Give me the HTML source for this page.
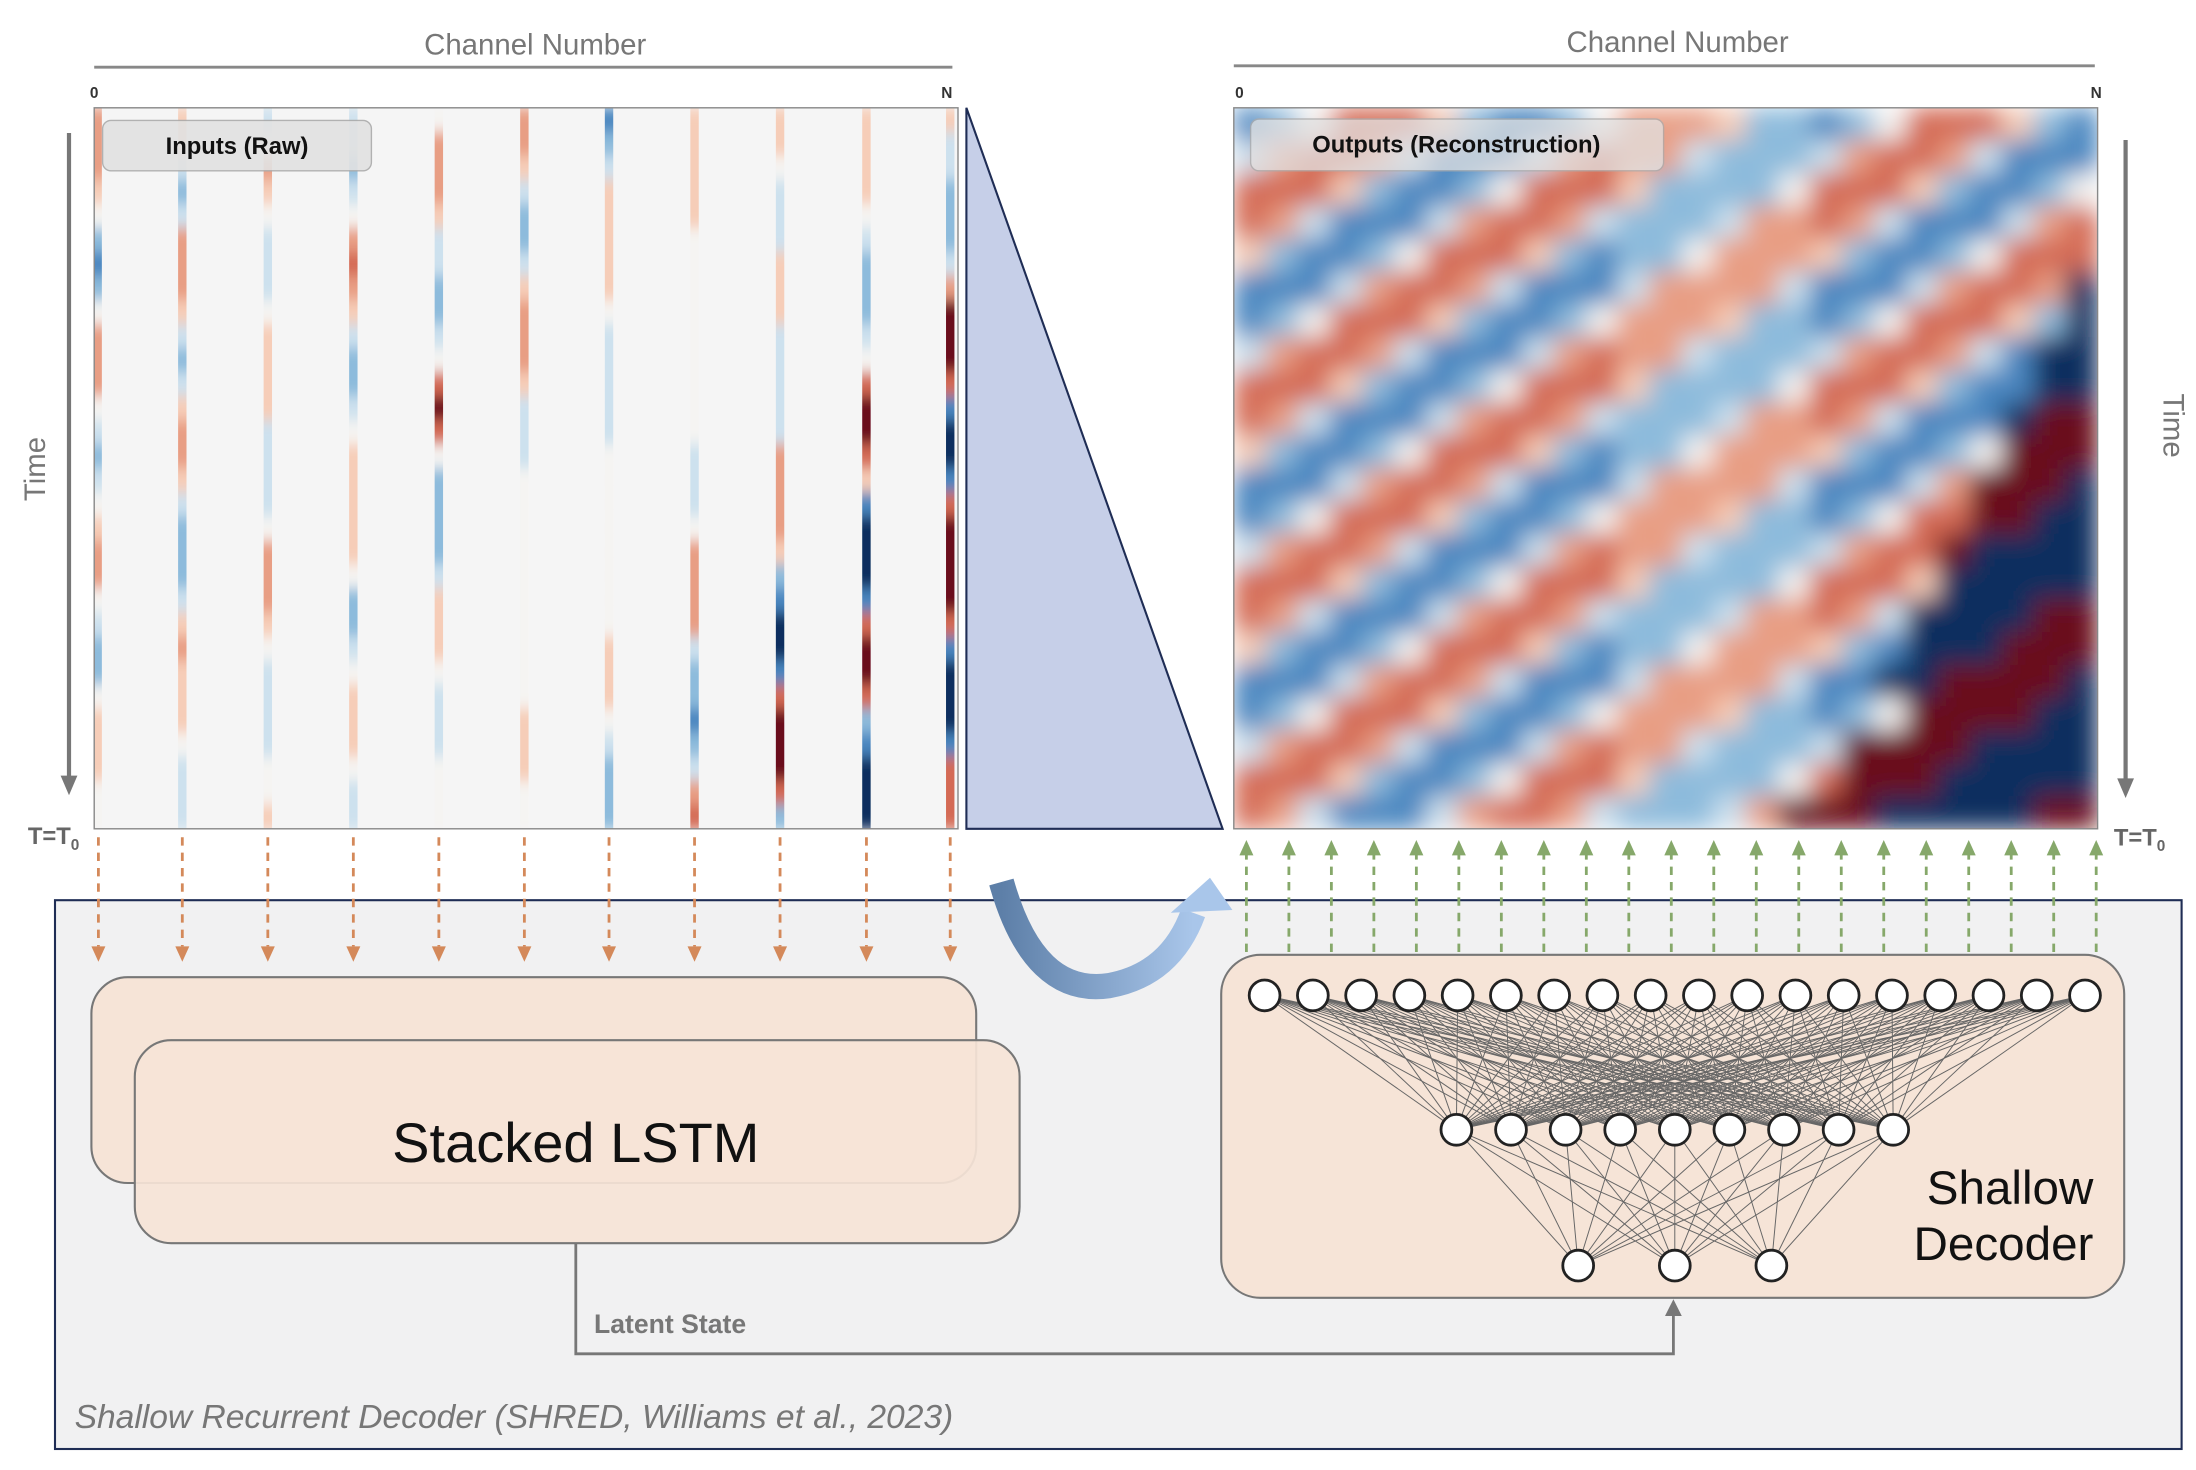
<!DOCTYPE html>
<html><head><meta charset="utf-8"><style>
html,body{margin:0;padding:0;background:#fff;}
svg{display:block;font-family:"Liberation Sans",sans-serif;}
</style></head><body>
<svg id="fig" width="2196" height="1470" viewBox="0 0 1568 1050">
<defs>
<linearGradient id="cg" x1="0" x2="1"><stop offset="0" stop-color="#5d7fa8"/><stop offset="1" stop-color="#a9c6ea"/></linearGradient>
<clipPath id="clipL"><rect x="67" y="77" width="617" height="515"/></clipPath>
<clipPath id="clipR"><rect x="881" y="77" width="617" height="515"/></clipPath>
<filter id="blurR" x="-5%" y="-5%" width="110%" height="110%"><feGaussianBlur stdDeviation="9" edgeMode="duplicate"/></filter>
<filter id="blurL" x="-5%" y="-5%" width="110%" height="110%"><feGaussianBlur stdDeviation="0 5"/></filter>
</defs>
<g clip-path="url(#clipL)">
<rect x="67" y="77" width="617" height="515" fill="#f5f5f5"/>
<g id="left-hm" filter="url(#blurL)"></g>
</g>
<g clip-path="url(#clipR)">
<g id="right-hm" filter="url(#blurR)"></g>
</g>
<rect x="67" y="77" width="617" height="515" fill="none" stroke="#888" stroke-width="1"/>
<rect x="881" y="77" width="617" height="515" fill="none" stroke="#888" stroke-width="1"/>
<rect x="73" y="86" width="192" height="36" rx="6" fill="#e2e2e2" stroke="#aaa" opacity="0.9"/>
<text x="169" y="110" text-anchor="middle" font-size="17" font-weight="bold" fill="#111">Inputs (Raw)</text>
<rect x="893" y="85" width="295" height="37" rx="6" fill="#e2e2e2" stroke="#aaa" opacity="0.75"/>
<text x="1040" y="109" text-anchor="middle" font-size="17" font-weight="bold" fill="#111">Outputs (Reconstruction)</text>
<text x="382" y="39" text-anchor="middle" font-size="21" fill="#777">Channel Number</text>
<line x1="67" y1="48" x2="680" y2="48" stroke="#888" stroke-width="2"/>
<text x="67" y="70" text-anchor="middle" font-size="11" font-weight="bold" fill="#333">0</text>
<text x="676" y="70" text-anchor="middle" font-size="11" font-weight="bold" fill="#333">N</text>
<text x="1198" y="37" text-anchor="middle" font-size="21" fill="#777">Channel Number</text>
<line x1="881" y1="47" x2="1496" y2="47" stroke="#888" stroke-width="2"/>
<text x="885" y="70" text-anchor="middle" font-size="11" font-weight="bold" fill="#333">0</text>
<text x="1497" y="70" text-anchor="middle" font-size="11" font-weight="bold" fill="#333">N</text>
<line x1="49" y1="95" x2="49" y2="556" stroke="#777" stroke-width="3"/>
<polygon points="43,554 55,554 49,568" fill="#777"/>
<text transform="translate(32,335) rotate(-90)" text-anchor="middle" font-size="21" fill="#777">Time</text>
<text x="38" y="603" text-anchor="middle" font-size="17" font-weight="bold" fill="#666">T=T<tspan font-size="11" dy="4">0</tspan></text>
<line x1="1518" y1="100" x2="1518" y2="558" stroke="#777" stroke-width="3"/>
<polygon points="1512,556 1524,556 1518,570" fill="#777"/>
<text transform="translate(1545,304) rotate(90)" text-anchor="middle" font-size="21" fill="#777">Time</text>
<text x="1528" y="604" text-anchor="middle" font-size="17" font-weight="bold" fill="#666">T=T<tspan font-size="11" dy="4">0</tspan></text>
<polygon points="690,77 690,592 873,592" fill="#c6cfe8" stroke="#1f2d55" stroke-width="1.5"/>
<rect x="39" y="643" width="1519" height="392" fill="#f1f1f2" stroke="#1f2d55" stroke-width="1.5"/>
<g id="arrows"></g>
<rect x="65" y="698" width="632" height="147" rx="26" fill="#f6e4d7" stroke="#777" stroke-width="1.5"/>
<rect x="96" y="743" width="632" height="145" rx="26" fill="#f6e4d7" fill-opacity="0.92" stroke="#777" stroke-width="1.5"/>
<text x="411" y="830" text-anchor="middle" font-size="40" fill="#111">Stacked LSTM</text>
<polyline points="411,888 411,967 1195,967 1195,938" fill="none" stroke="#777" stroke-width="2"/>
<polygon points="1189,940 1201,940 1195,928" fill="#777"/>
<text x="424" y="952" font-size="19" font-weight="bold" fill="#777">Latent State</text>
<rect x="872" y="682" width="645" height="245" rx="28" fill="#f6e4d7" stroke="#777" stroke-width="1.5"/>
<g id="net"></g>
<text x="1495" y="860" text-anchor="end" font-size="34" fill="#111">Shallow</text>
<text x="1495" y="900" text-anchor="end" font-size="34" fill="#111">Decoder</text>
<g>
<path d="M715,630 Q738,712 792,704 Q836,696 852,652" fill="none" stroke="url(#cg)" stroke-width="18"/>
<polygon points="836,652 880,650 864,627" fill="#a9c6ea"/>
</g>
<text x="53" y="1020" font-size="24" font-style="italic" fill="#777">Shallow Recurrent Decoder  (SHRED, Williams et al., 2023)</text>
</svg>
<script>
const inputChannels = [0.004,0.102,0.201,0.3,0.399,0.498,0.596,0.695,0.794,0.894,0.991];
const inputStripes = [
"666542124666432345664322455544",
"553236665323566532223565554333",
"346543334555533334666543333445",
"332346765322345555542234555433",
"466653322347874222235554333444",
"665"+"3223"+"56665"+"333"+"4444444444"+"555"+"44",
"123"+"55555"+"4"+"33333"+"44444444"+"555"+"4"+"3222",
"55555"+"444444444"+"333"+"4"+"6666"+"3221"+"23"+"67",
"55"+"4"+"333"+"555"+"33333"+"6666"+"5"+"21001"+"78887"+"2",
"55554"+"32223"+"4"+"7887"+"5"+"10001"+"7887"+"21000",
"5332223"+"68887"+"1001"+"788887"+"10001"+"777"];
const outputRows = [
"124777521"+"124666522"+"124777521",
"367763111"+"367663222"+"367763111",
"777521124"+"777522224"+"777521124",
"763111367"+"763222366"+"763111367",
"521124777"+"521224666"+"521124777",
"111367763"+"111366663"+"111367760",
"124777521"+"124666522"+"124777520",
"367763111"+"367663222"+"367763100",
"777521124"+"777522224"+"777521100",
"763111367"+"763222366"+"763111088",
"521124777"+"521224666"+"521124888",
"111367763"+"111366663"+"111368880",
"124777521"+"124666522"+"124778800",
"367763111"+"367663222"+"367780000",
"777521124"+"777522224"+"777500000",
"763111367"+"763222366"+"763000088",
"521124777"+"521224666"+"521000888",
"111367763"+"111366663"+"110088880",
"124777521"+"124666522"+"124888800",
"367763111"+"367663222"+"388880000",
"777521124"+"777522224"+"788800000",
"763111367"+"763222368"+"880000088"];
const palette = ['#0d2f5e','#4a86c0','#8dbbdc','#cde1ee','#f5f4f2','#f6cdb8','#e89e84','#d46a55','#6a0c1f'];
const topNodeCount = 18, midNodeCount = 9, botNodeCount = 3;
const greenArrows = 21;
const NS='http://www.w3.org/2000/svg';
function mk(t,a,p){const e=document.createElementNS(NS,t);for(const k in a)e.setAttribute(k,a[k]);p.appendChild(e);return e;}
const L=document.getElementById('left-hm');
const lx=v=>67+v*617;
inputStripes.forEach((s,i)=>{
  const rh=515/s.length;
  for(let r=0;r<s.length;r++){
    const c=mk('rect',{x:lx(inputChannels[i])-3,y:77+r*rh,width:6,height:rh+0.5,fill:palette[+s[r]]},L);
    
    
  }
});
const R=document.getElementById('right-hm');
outputRows.forEach((row,r)=>{
  const rh=515/outputRows.length, cw=617/row.length;
  for(let c=0;c<row.length;c++){
    const e=mk('rect',{x:881+c*cw,y:77+r*rh,width:cw+0.5,height:rh+0.5,fill:palette[+row[c]]},R);
    
    
  }
});
const A=document.getElementById('arrows');
inputChannels.forEach(v=>{
  const x=Math.min(Math.max(lx(v),70),680);
  const l=mk('line',{x1:x,y1:598,x2:x,y2:676,stroke:'#d4895a','stroke-width':2,'stroke-dasharray':'6,5'},A);
  
  
  mk('polygon',{points:`${x-5},676 ${x+5},676 ${x},687`,fill:'#d4895a'},A);
});
for(let i=0;i<greenArrows;i++){
  const x=890+i*(1497-890)/(greenArrows-1);
  const l=mk('line',{x1:x,y1:680,x2:x,y2:610,stroke:'#86a86a','stroke-width':2,'stroke-dasharray':'6,5'},A);
  
  
  mk('polygon',{points:`${x-5},611 ${x+5},611 ${x},600`,fill:'#86a86a'},A);
}
const N=document.getElementById('net');
const topLayer=[],midLayer=[],botLayer=[];
for(let i=0;i<topNodeCount;i++)topLayer.push([903+i*(1489-903)/(topNodeCount-1),711]);
for(let i=0;i<midNodeCount;i++)midLayer.push([1040+i*(1352-1040)/(midNodeCount-1),807]);
for(let i=0;i<botNodeCount;i++)botLayer.push([1127+i*69,904]);
topLayer.forEach(a=>midLayer.forEach(b=>mk('line',{x1:a[0],y1:a[1],x2:b[0],y2:b[1],stroke:'#666','stroke-width':0.7},N)));
midLayer.forEach(a=>botLayer.forEach(b=>mk('line',{x1:a[0],y1:a[1],x2:b[0],y2:b[1],stroke:'#666','stroke-width':0.7},N)));
[topLayer,midLayer,botLayer].forEach(layer=>layer.forEach(p=>{
  const c=mk('circle',{cx:p[0],cy:p[1],r:11,fill:'#fff',stroke:'#222','stroke-width':2},N);
  
  
}));
</script>
</body></html>
